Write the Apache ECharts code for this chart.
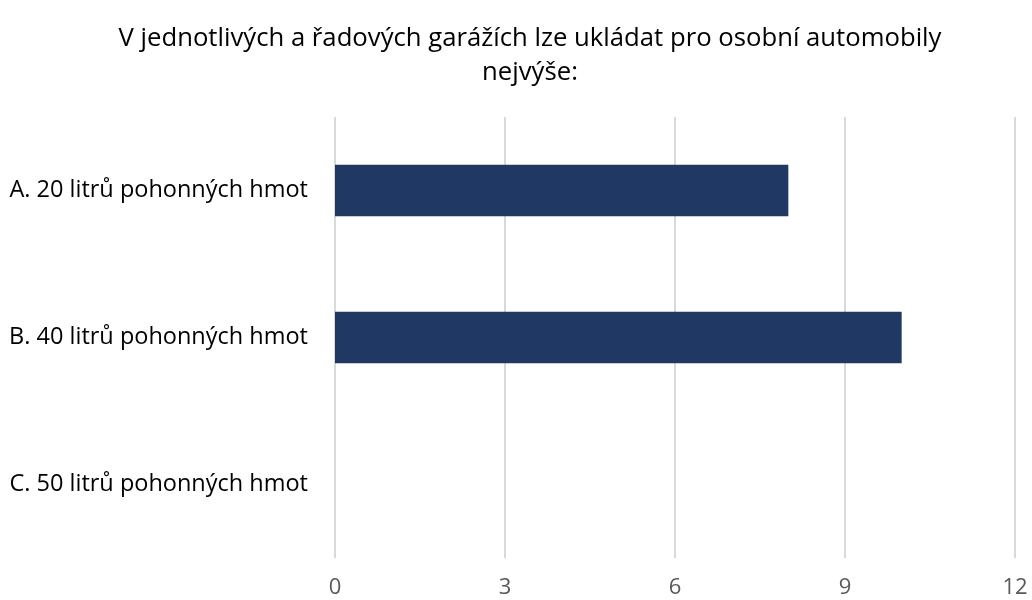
<!DOCTYPE html>
<html><head><meta charset="utf-8">
<script src="https://cdn.jsdelivr.net/npm/echarts@6/dist/echarts.min.js"></script>
<style>html,body{margin:0;padding:0;background:#fff}#c{width:1032px;height:600px}</style>
</head><body><div id="c"></div>
<script>
const titleText = 'V jednotlivých a řadových garážích lze ukládat pro osobní automobily\nnejvýše:';
const categories = ['A. 20 litrů pohonných hmot', 'B. 40 litrů pohonných hmot', 'C. 50 litrů pohonných hmot'];
const values = [8, 10, 0];
const xMin = 0, xMax = 12, xStep = 3;

const chart = echarts.init(document.getElementById('c'));
chart.setOption({
  animation: false,
  backgroundColor: '#fff',
  title: {
    text: titleText, left: 525, top: 17, textAlign: 'center',
    textStyle: { fontFamily: 'Open Sans', fontSize: 25.7, fontWeight: 'normal', color: '#000', lineHeight: 34 }
  },
  grid: { left: 335, right: 17, top: 117, bottom: 42, containLabel: false },
  xAxis: {
    type: 'value', min: xMin, max: xMax, interval: xStep,
    axisLine: { show: false }, axisTick: { show: false },
    splitLine: { lineStyle: { color: '#d9d9d9', width: 2 } },
    axisLabel: { fontFamily: 'Open Sans', fontSize: 22, color: '#595959', margin: 19 }
  },
  yAxis: {
    type: 'category', data: categories, inverse: true,
    axisLine: { show: false }, axisTick: { show: false },
    axisLabel: { fontFamily: 'Open Sans', fontSize: 23.5, color: '#000', margin: 27 }
  },
  series: [{
    type: 'bar', data: values, barWidth: '35%',
    itemStyle: { color: '#203864' }
  }]
});
</script></body></html>
